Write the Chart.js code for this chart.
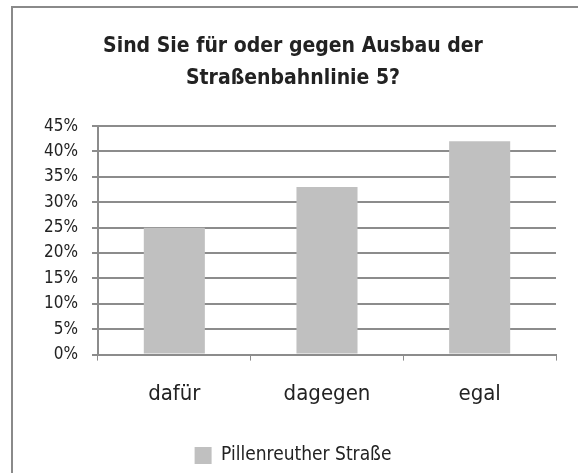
<!DOCTYPE html>
<html>
<head>
<meta charset="utf-8">
<script src="https://cdn.jsdelivr.net/npm/chart.js@4"></script>
<style>
  html, body { margin: 0; padding: 0; background: #fff; }
  #wrap { position: relative; width: 578px; height: 473px; overflow: hidden; }
  #frame { position: absolute; left: 11px; top: 6px; width: 600px; height: 500px; border: 2px solid #8a8a8a; }
  #chart { position: absolute; left: 0; top: 0; }
</style>
</head>
<body>
<div id="wrap">
  <div id="frame"></div>
  <canvas id="chart" width="578" height="473"></canvas>
</div>
<script>
const categories = ['dafür', 'dagegen', 'egal'];
const seriesName = 'Pillenreuther Straße';
const seriesValues = [25, 33, 42];
const yTicks = [0, 5, 10, 15, 20, 25, 30, 35, 40, 45];

const FONT = "'DejaVu Sans Condensed', 'Liberation Sans Narrow', sans-serif";
const grey = '#8c8c8c';

const ctx = document.getElementById('chart').getContext('2d');
new Chart(ctx, {
    type: 'bar',
    data: {
        labels: categories,
        datasets: [{
            label: seriesName,
            data: seriesValues,
            backgroundColor: '#c0c0c0',
            borderWidth: 0,
            categoryPercentage: 0.8,
            barPercentage: 0.5
        }]
    },
    options: {
        responsive: false,
        animation: false,
        layout: { padding: { left: 30, right: 22, top: 30, bottom: -2 } },
        plugins: {
            title: {
                display: true,
                text: ['Sind Sie für oder gegen Ausbau der', 'Straßenbahnlinie 5?'],
                color: '#222',
                font: { family: FONT, size: 21, weight: 'bold', lineHeight: 1.55 },
                padding: { top: 0, bottom: 31 }
            },
            legend: {
                position: 'bottom',
                labels: {
                    color: '#222',
                    font: { family: FONT, size: 19 },
                    boxWidth: 17,
                    boxHeight: 17,
                    padding: 8
                }
            },
            tooltip: { enabled: false }
        },
        scales: {
            x: {
                grid: { display: true, drawOnChartArea: false, drawTicks: true, tickLength: 6, color: grey, offset: true },
                border: { color: grey, width: 2 },
                ticks: { color: '#222', font: { family: FONT, size: 22 }, padding: 20 },
                afterFit: axis => { axis.height += 11; }
            },
            y: {
                min: 0,
                max: 45,
                afterBuildTicks: axis => { axis.ticks = yTicks.map(v => ({ value: v })); },
                grid: { color: grey, lineWidth: 2, tickLength: 6 },
                border: { color: grey, width: 2 },
                ticks: {
                    color: '#222',
                    font: { family: FONT, size: 17 },
                    padding: 14,
                    callback: v => v + '%'
                }
            }
        }
    }
});
</script>
</body>
</html>
